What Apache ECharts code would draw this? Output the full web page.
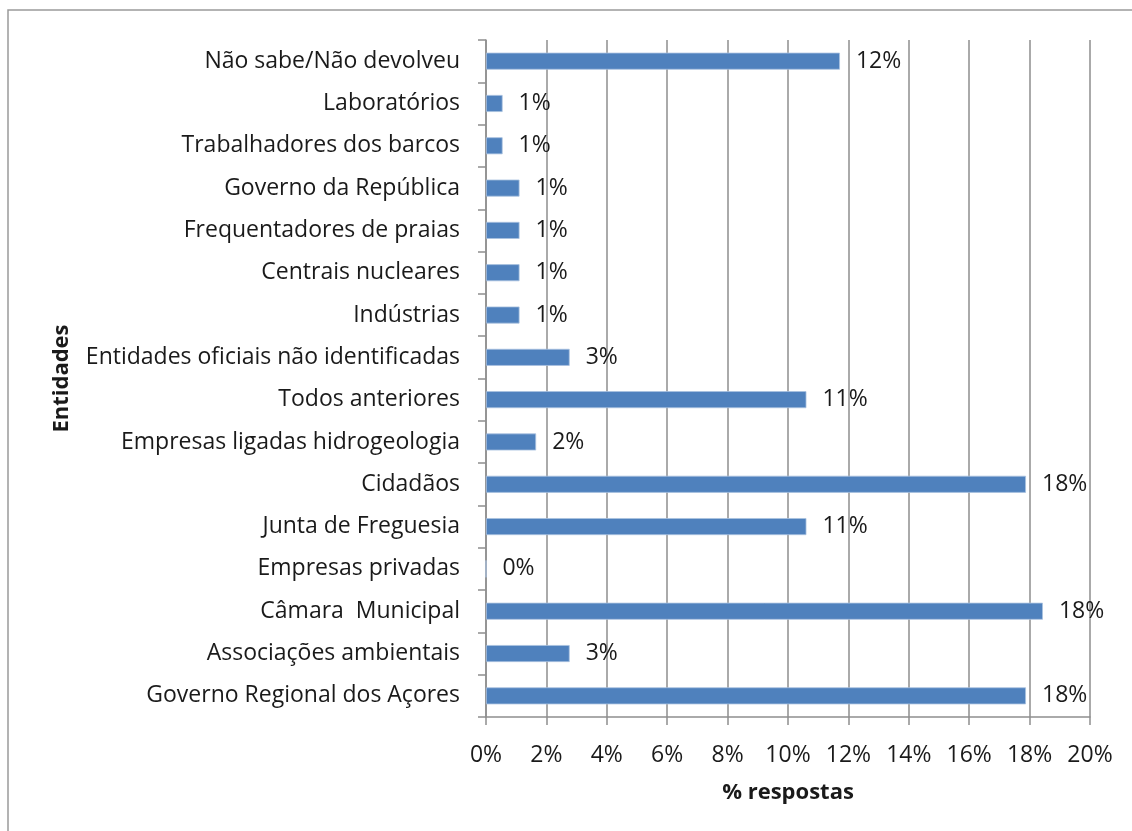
<!DOCTYPE html>
<html>
<head>
<meta charset="utf-8">
<script src="https://cdn.jsdelivr.net/npm/echarts@6/dist/echarts.min.js"></script>
<style>
  html, body { margin: 0; padding: 0; background: #ffffff; }
  #chart { width: 1132px; height: 831px; }
</style>
</head>
<body>
<div id="chart"></div>
<script>
// Entities, listed bottom to top as drawn on the category axis
const categories = [
  'Governo Regional dos Açores',
  'Associações ambientais',
  'Câmara  Municipal',
  'Empresas privadas',
  'Junta de Freguesia',
  'Cidadãos',
  'Empresas ligadas hidrogeologia',
  'Todos anteriores',
  'Entidades oficiais não identificadas',
  'Indústrias',
  'Centrais nucleares',
  'Frequentadores de praias',
  'Governo da República',
  'Trabalhadores dos barcos',
  'Laboratórios',
  'Não sabe/Não devolveu'
];

// Share of answers (%) for each entity
const respostas = [17.88, 2.77, 18.44, 0, 10.61, 17.88, 1.66, 10.61, 2.77, 1.11, 1.11, 1.11, 1.11, 0.55, 0.55, 11.72];

// Value axis ticks
const xTicks = { min: 0, max: 20, interval: 2 };

const FONT = '"Open Sans", sans-serif';
const textColor = '#1a1a1a';
const gridColor = '#8e8e8e';

const chart = echarts.init(document.getElementById('chart'), null, { renderer: 'canvas' });

chart.setOption({
  backgroundColor: '#ffffff',
  animation: false,
  graphic: [{
    type: 'rect',
    shape: { x: 8, y: 10, width: 1200, height: 900 },
    style: { fill: 'none', stroke: '#9a9a9a', lineWidth: 1.5 },
    silent: true
  }],
  grid: { left: 486, right: 42, top: 40, bottom: 114, containLabel: false },
  xAxis: {
    type: 'value',
    min: xTicks.min,
    max: xTicks.max,
    interval: xTicks.interval,
    name: '% respostas',
    nameLocation: 'middle',
    nameGap: 65,
    nameTextStyle: { fontFamily: FONT, fontSize: 22, fontWeight: 'bold', color: textColor },
    axisLine: { show: true, lineStyle: { color: gridColor, width: 1.5 } },
    axisTick: { show: true, length: 8, lineStyle: { color: gridColor, width: 1.5 } },
    axisLabel: {
      margin: 27,
      fontFamily: FONT, fontSize: 23, color: textColor,
      formatter: '{value}%'
    },
    splitLine: { show: true, lineStyle: { color: gridColor, width: 1.5 } }
  },
  yAxis: {
    type: 'category',
    data: categories,
    name: 'Entidades',
    nameLocation: 'middle',
    nameGap: 413,
    nameRotate: 90,
    nameTextStyle: { fontFamily: FONT, fontSize: 22, fontWeight: 'bold', color: textColor },
    axisLine: { show: true, lineStyle: { color: gridColor, width: 1.5 } },
    axisTick: { show: true, length: 8, alignWithLabel: false, lineStyle: { color: gridColor, width: 1.5 } },
    axisLabel: { margin: 26, padding: [4, 0, 0, 0], fontFamily: FONT, fontSize: 23, color: textColor },
    splitLine: { show: false }
  },
  series: [{
    type: 'bar',
    data: respostas,
    barWidth: 17,
    itemStyle: { color: '#4f81bd', borderColor: '#a9c2e0', borderWidth: 0.8 },
    label: {
      show: true,
      position: 'right',
      distance: 16,
      padding: [5, 0, 0, 0],
      fontFamily: FONT, fontSize: 23, color: textColor,
      formatter: p => Math.round(p.value) + '%'
    }
  }]
});
</script>
</body>
</html>
